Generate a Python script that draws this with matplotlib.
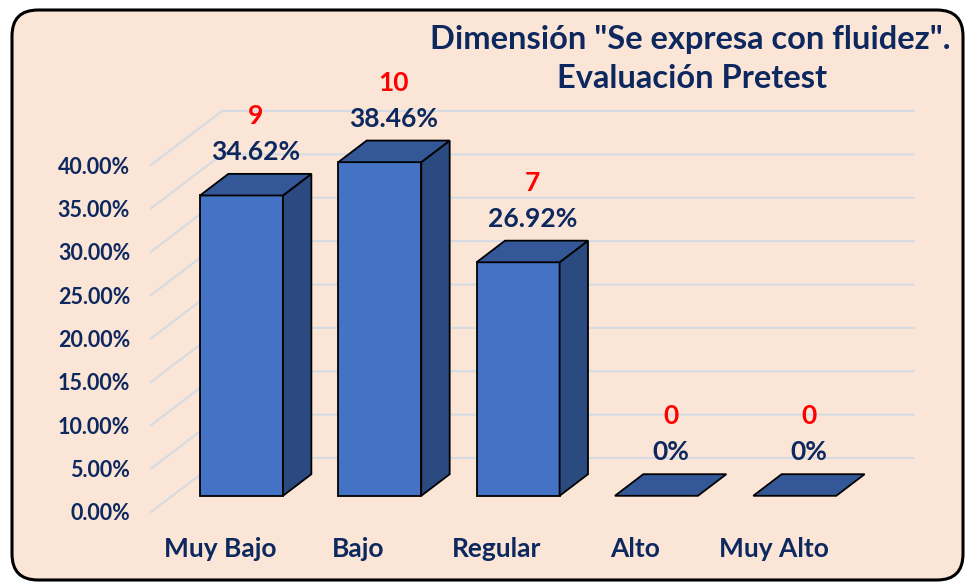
import matplotlib
matplotlib.use('Agg')
import matplotlib.pyplot as plt
import matplotlib.transforms as mtransforms
from matplotlib.patches import Polygon, Rectangle, FancyBboxPatch

categorias = ['Muy Bajo', 'Bajo', 'Regular', 'Alto', 'Muy Alto']
frecuencias = [9, 10, 7, 0, 0]
porcentajes = [34.62, 38.46, 26.92, 0, 0]
ticks_y = [0, 5, 10, 15, 20, 25, 30, 35, 40]

titulo_1 = 'Dimensión "Se expresa con fluidez".'
titulo_2 = 'Evaluación Pretest'

AZUL = '#0D285E'
FONDO = '#FBE5D6'
FRENTE = '#4472C4'
LADO = '#2A4A80'
TAPA = '#335797'
REJILLA = '#D5DBE2'

plt.rcParams['font.family'] = ['Lato', 'DejaVu Sans']
plt.rcParams['font.weight'] = 'bold'

W, H = 966, 582
fig = plt.figure(figsize=(W / 100, H / 100), dpi=100)
fig.patch.set_facecolor('white')

# marco redondeado (en pixeles)
marco = FancyBboxPatch((12, 2), 951, 570, boxstyle='round,pad=0,rounding_size=26',
                       transform=mtransforms.IdentityTransform(),
                       facecolor=FONDO, edgecolor='black', linewidth=2.2, zorder=-10)
fig.patches.append(marco)

ax = fig.add_axes([151 / W, 70 / H, 691.6 / W, 347 / H])
ax.set_zorder(1)
ax.set_xlim(-0.5, 4.5)
ax.set_ylim(0, 40)
ax.patch.set_visible(False)
for s in ax.spines.values():
    s.set_visible(False)

# profundidad 3D en pixeles -> unidades de datos
px_x = 691.6 / 5
px_y = 347 / 40
DX = 71 / px_x
DY = 54 / px_y

# rejilla en perspectiva
for t in ticks_y:
    ax.plot([-0.5, -0.5 + DX, 4.5 + DX], [t, t + DY, t + DY],
            color=REJILLA, lw=1.5, clip_on=False, zorder=1)

ax.set_yticks(ticks_y)
ax.set_yticklabels([f'{t:.2f}%' for t in ticks_y])
ax.set_xticks(range(len(categorias)))
ax.set_xticklabels(categorias)
ax.tick_params(axis='y', length=0, pad=15, labelsize=15.5, labelcolor=AZUL)
ax.tick_params(axis='x', length=0, pad=18, labelsize=19, labelcolor=AZUL)

# barras 3D
base = 0.3 * DY
ddx, ddy = 0.4 * DX, 0.4 * DY
ancho = 0.6
for i, v in enumerate(porcentajes):
    x0 = i - ancho / 2 + 0.3 * DX
    x1 = x0 + ancho
    top = base + v
    if v > 0:
        ax.add_patch(Rectangle((x0, base), ancho, v, facecolor=FRENTE, edgecolor='black',
                               lw=1.3, clip_on=False, zorder=3))
        ax.add_patch(Polygon([(x1, base), (x1 + ddx, base + ddy), (x1 + ddx, top + ddy), (x1, top)],
                             closed=True, facecolor=LADO, edgecolor='black', lw=1.3,
                             clip_on=False, zorder=3))
    ax.add_patch(Polygon([(x0, top), (x1, top), (x1 + ddx, top + ddy), (x0 + ddx, top + ddy)],
                         closed=True, facecolor=TAPA, edgecolor='black', lw=1.3,
                         clip_on=False, zorder=3))

    etiqueta = '0%' if v == 0 else f'{v:.2f}%'
    yc = top + ddy + 22 / px_y
    ax.text(i + 0.5 * DX, yc, etiqueta, ha='center', va='center', fontsize=19,
            color=AZUL, fontweight='bold', clip_on=False, zorder=4)
    ax.text(i + 0.5 * DX, yc + 36 / px_y, str(frecuencias[i]), ha='center', va='center',
            fontsize=19, color='#FF0000', fontweight='bold', clip_on=False, zorder=4)

fig.text(690 / W, 1 - 40 / H, titulo_1, ha='center', va='center', fontsize=23.5,
         color=AZUL, fontweight='bold')
fig.text(692 / W, 1 - 78 / H, titulo_2, ha='center', va='center', fontsize=23.5,
         color=AZUL, fontweight='bold')

fig.savefig('out.png', dpi=100, facecolor='white')
